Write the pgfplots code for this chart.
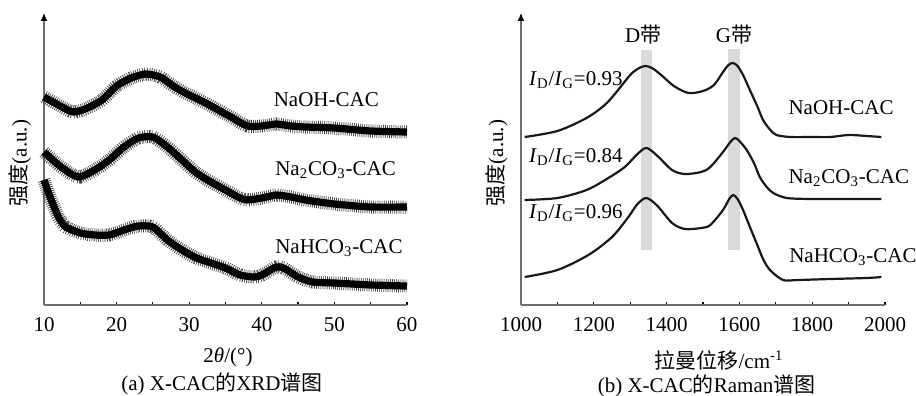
\documentclass[border=0pt]{standalone}
\usepackage{pgfplots}
\pgfplotsset{compat=1.18}
\usepackage{fontspec}
\setmainfont{Liberation Serif}
\newfontfamily\cjk{Noto Sans CJK SC}
\usetikzlibrary{arrows.meta}
\definecolor{axgray}{RGB}{110,110,110}
\definecolor{bandgray}{RGB}{218,218,218}

\pgfplotstableread{
x y
10 208
12 200
14 193
16 197
18 205
20 219
22 227
24 231
26 228
28 218
30 210
32 203
34 195
36 187
38 179
40 179
42 181
44 179
46 178
50 177
55 174
60 173
}\xrdA
\pgfplotstableread{
x y
10 153
12 140
14 130
15 128
17 135
19 145
21 158
23 167
25 168
27 158
29 145
31 132
33 123
35 115
37 107
38 105
40 107
42 110
44 108
46 105
50 101
55 98
60 98
}\xrdB
\pgfplotstableread{
x y
10 125
11 105
12 88
13 78
15 72
17 70
19 70
21 75
23 79
25 78
27 65
29 55
31 47
33 42
35 37
37 30
39 28
40 30
42 38
43 37
45 28
47 23
50 22
55 20
60 19
}\xrdC

\pgfplotstableread{
x y
1010 168
1100 174
1180 187
1230 200
1260 212
1300 230
1320 236
1340 239
1360 237
1385 230
1420 219
1460 212
1500 214
1530 220
1555 233
1570 240
1582 242
1595 239
1610 230
1630 214
1650 198
1665 185
1685 175
1702 170
1740 168
1800 168
1850 168
1900 170
1950 169
1990 168
}\ramA
\pgfplotstableread{
x y
1010 105
1100 107
1180 115
1240 127
1285 138
1320 151
1345 157
1375 149
1415 135
1450 131
1495 133
1520 138
1555 153
1575 163
1588 167
1600 164
1620 155
1640 142
1656 128
1675 118
1693 112
1730 107
1800 106
1900 106
1990 106
}\ramB
\pgfplotstableread{
x y
1010 28
1100 35
1185 50
1250 68
1295 88
1320 101
1345 107
1375 99
1415 82
1450 76
1495 77
1520 80
1555 95
1572 106
1583 110
1595 106
1610 95
1630 77
1647 62
1665 46
1684 35
1720 25
1760 25
1850 26
1950 27
1990 28
}\ramC

\tikzset{lab/.style={inner sep=0pt}}
\pgfplotsset{
  common/.style={
    scale only axis,
    height=146pt,
    anchor=south west,
    axis y line=left,
    axis x line=bottom,
    ymin=0, ymax=292,
    ytick=\empty,
    axis line style={axgray, line width=0.6pt},
    x axis line style={-},
    y axis line style={-{Latex[length=4pt,width=3.5pt,black]}},
    tick style={black, line width=0.6pt},
    major tick length=1.6pt,
    minor tick length=1.6pt,
    tick align=inside,
    /pgf/number format/assume math mode=true,
    /pgf/number format/1000 sep={},
    xticklabel style={anchor=center, yshift=-10pt, font=\fontsize{10.5}{12}\selectfont},
    clip=false,
  },
  fuzz/.style={black!75, line width=6.5pt, smooth, tension=0.4, dash pattern=on 0.35pt off 0.7pt},
  core/.style={black, line width=3.6pt, smooth, tension=0.4, line join=round},
}

\begin{document}
\begin{tikzpicture}[x=1pt,y=1pt]
\path[use as bounding box] (0,0) rectangle (458,-198);
\fontsize{10.5}{12}\selectfont

% Left panel
\begin{axis}[common,
  at={(22pt,-152.5pt)}, width=181.5pt,
  xmin=10, xmax=60,
  xtick={10,20,...,60},
  minor xtick={15,25,...,55},
]
\addplot[fuzz] table[x=x,y=y] {\xrdA};
\addplot[core] table[x=x,y=y] {\xrdA};
\addplot[fuzz] table[x=x,y=y] {\xrdB};
\addplot[core] table[x=x,y=y] {\xrdB};
\addplot[fuzz] table[x=x,y=y] {\xrdC};
\addplot[core] table[x=x,y=y] {\xrdC};
\node[lab, anchor=west] at (axis cs:41.6,205) {NaOH-CAC};
\node[lab, anchor=west] at (axis cs:41.8,135) {Na\textsubscript{2}CO\textsubscript{3}-CAC};
\node[lab, anchor=west] at (axis cs:41.8,57) {NaHCO\textsubscript{3}-CAC};
\end{axis}

% Right panel
\begin{axis}[common,
  at={(260.5pt,-152.5pt)}, width=182pt,
  xmin=1000, xmax=2000,
  xtick={1000,1200,...,2000},
  minor xtick={1100,1300,...,1900},
]
\addplot[fill=bandgray, draw=none] coordinates {(1330,55) (1359,55) (1359,255) (1330,255)} -- cycle;
\addplot[fill=bandgray, draw=none] coordinates {(1570,55) (1602,55) (1602,256) (1570,256)} -- cycle;
\addplot[black!90, line width=1.1pt, smooth, tension=0.5] table[x=x,y=y] {\ramA};
\addplot[black!90, line width=1.1pt, smooth, tension=0.5] table[x=x,y=y] {\ramB};
\addplot[black!90, line width=1.1pt, smooth, tension=0.5] table[x=x,y=y] {\ramC};
\node at (axis cs:1336,270) {D{\cjk 带}};
\node at (axis cs:1585,270) {G{\cjk 带}};
\node[lab, anchor=east] at (axis cs:1280,225) {\textit{I}\textsubscript{D}/\textit{I}\textsubscript{G}=0.93};
\node[lab, anchor=east] at (axis cs:1280,148) {\textit{I}\textsubscript{D}/\textit{I}\textsubscript{G}=0.84};
\node[lab, anchor=east] at (axis cs:1280,92) {\textit{I}\textsubscript{D}/\textit{I}\textsubscript{G}=0.96};
\node[lab, anchor=west] at (axis cs:1734,197) {NaOH-CAC};
\node[lab, anchor=west] at (axis cs:1734,127) {Na\textsubscript{2}CO\textsubscript{3}-CAC};
\node[lab, anchor=west] at (axis cs:1736,48) {NaHCO\textsubscript{3}-CAC};
\end{axis}

% axis titles and captions
\node[rotate=90] at (10,-81.5) {{\cjk 强度}(a.u.)};
\node[rotate=90] at (248.3,-81.5) {{\cjk 强度}(a.u.)};
\node at (114,-178.5) {2\textit{θ}/(°)};
\node at (359.5,-180) {{\cjk 拉曼位移}/cm\textsuperscript{-1}};
\node at (111,-192) {(a) X-CAC{\cjk 的}XRD{\cjk 谱图}};
\node at (353.3,-193) {(b) X-CAC{\cjk 的}Raman{\cjk 谱图}};
\end{tikzpicture}
\end{document}
